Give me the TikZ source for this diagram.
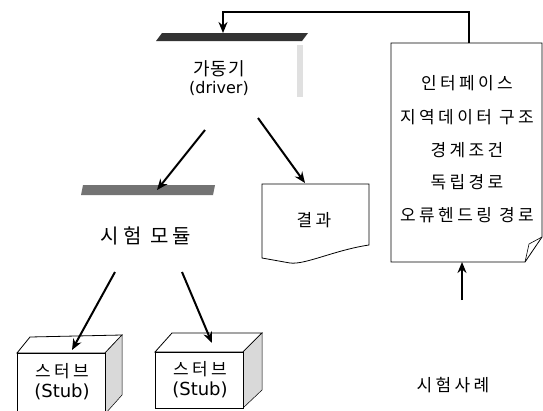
\documentclass[tikz,border=0pt]{standalone}
\usepackage{fontspec}
\newfontfamily\kr[LetterSpace=20]{Noto Sans CJK KR}
\newfontfamily\krt[LetterSpace=5]{Noto Sans CJK KR}
\newfontfamily\lat{DejaVu Sans}
\usetikzlibrary{arrows.meta}
\tikzset{
  arr/.style={line width=2pt,-{Stealth[length=11pt,width=9pt]}},
  outline/.style={draw=black,line width=0.8pt,fill=white},
  lbl/.style={font=\kr\fontsize{17}{20}\selectfont,align=center,inner sep=1pt},
  sidefill/.style={fill=black!15,draw=black,line width=0.5pt},
}
\begin{document}
\begin{tikzpicture}[x=1pt,y=-1pt]
\useasboundingbox (0,0) rectangle (543,410);
\fill[white] (0,0) rectangle (543,410);

% ---------- driver ----------
\fill[black!80] (162,33) -- (308,33) -- (302,41) -- (156,41) -- cycle;
\fill[black!12] (297,45) rectangle (303,97);
\coordinate (drvbar) at (223,33);
\node[align=center,inner sep=1pt] (drv) at (219,78)
  {\krt\fontsize{18}{22}\selectfont 가동기\\[3pt]\lat\fontsize{16}{21}\selectfont (driver)};
\coordinate (drvL) at (205,130);
\coordinate (drvR) at (258,118);

% ---------- test module ----------
\fill[black!55] (83,185) -- (215,185) -- (213,195) -- (81,195) -- cycle;
\coordinate (modbar) at (157,190);
\node[font=\kr\fontsize{20}{24}\selectfont,inner sep=1pt] (mod) at (146,236) {시험 모듈};
\coordinate (modL) at (115,272);
\coordinate (modR) at (182,272);

% ---------- result document ----------
\draw[outline] (262,184) -- (369,184) -- (369,245)
   .. controls (335,250) and (305,265) .. (290,263) -- (262,258) -- cycle;
\coordinate (restop) at (305,183);
\node[lbl] (res) at (314,220) {결과};

% ---------- test case document ----------
\draw[outline] (391,43) -- (542,43) -- (542,237) -- (525,262) -- (391,262) -- cycle;
\draw[line width=0.6pt] (542,237) -- (529,244) -- (525,262);
\coordinate (tctop) at (469,43);
\coordinate (tcbot) at (462,262);
\node[lbl] (tc1) at (467,83) {인터페이스};
\node[lbl] (tc2) at (467,117) {지역데이터 구조};
\node[lbl] (tc3) at (467,150) {경계조건};
\node[lbl] (tc4) at (467,182) {독립경로};
\node[lbl] (tc5) at (467,215) {오류헨드링 경로};
\coordinate (tcsrc) at (462,300);
\node[lbl] (tcl) at (453,385) {시험사례};

% ---------- stub 1 ----------
\draw[outline] (17,353) -- (30,337) -- (122,335) -- (105,353) -- cycle;
\draw[sidefill] (105,353) -- (122,335) -- (122,395) -- (105,414) -- cycle;
\draw[outline] (17,353) rectangle (105,414);
\coordinate (stub1top) at (72,350);
\node[align=center,inner sep=1pt] (s1) at (62,382)
  {\kr\fontsize{17}{20}\selectfont 스터브\\[4pt]\lat\fontsize{18}{20}\selectfont (Stub)};

% ---------- stub 2 ----------
\draw[outline] (155,352) -- (172,333) -- (262,333) -- (243,352) -- cycle;
\draw[sidefill] (243,352) -- (262,333) -- (262,390) -- (243,408) -- cycle;
\draw[outline] (155,352) rectangle (243,408);
\coordinate (stub2top) at (212,343);
\node[align=center,inner sep=1pt] (s2) at (200,380)
  {\kr\fontsize{17}{20}\selectfont 스터브\\[4pt]\lat\fontsize{18}{20}\selectfont (Stub)};

% ---------- connectors ----------
\coordinate (fb) at (223,12);
\draw[arr] (tctop) |- (fb) -- (drvbar);
\draw[arr] (drvL) -- (modbar);
\draw[arr] (drvR) -- (restop);
\draw[arr] (modL) -- (stub1top);
\draw[arr] (modR) -- (stub2top);
\draw[arr] (tcsrc) -- (tcbot);
\end{tikzpicture}
\end{document}
